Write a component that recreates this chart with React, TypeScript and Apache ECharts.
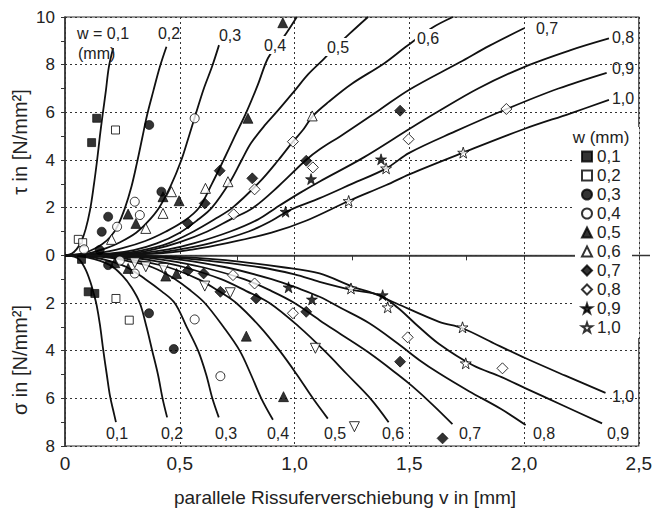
import React, { useEffect, useRef } from "react";
import * as echarts from "echarts";

// ---------- data ----------
const W_NAMES = ["0,1", "0,2", "0,3", "0,4", "0,5", "0,6", "0,7", "0,8", "0,9", "1,0"];

// fitted curves, shear stress τ (upper half)
const tau01 = [[0,0],[0.03,0.08],[0.05,0.25],[0.07,0.55],[0.09,1.1],[0.109,1.9],[0.125,2.9],[0.14,4.0],[0.152,5.0],[0.164,5.9],[0.178,6.9],[0.191,7.9],[0.21,8.7]];
const tau02 = [[0,0],[0.05,0.04],[0.1,0.15],[0.16,0.45],[0.2,0.8],[0.23,1.25],[0.26,1.95],[0.29,2.9],[0.314,3.9],[0.336,4.9],[0.358,5.9],[0.385,6.9],[0.413,7.9],[0.442,8.75]];
const tau03 = [[0,0],[0.1,0.08],[0.18,0.3],[0.24,0.55],[0.31,0.95],[0.36,1.4],[0.41,2.0],[0.46,2.9],[0.507,4.0],[0.54,5.0],[0.572,6.0],[0.605,7.0],[0.64,7.9],[0.671,8.82]];
const tau04 = [[0,0],[0.15,0.1],[0.25,0.3],[0.35,0.6],[0.44,1.0],[0.52,1.45],[0.584,2.0],[0.64,3.0],[0.691,4.0],[0.74,5.0],[0.79,6.0],[0.84,7.15],[0.884,8.27],[0.925,8.8],[0.965,9.33],[1.01,10]];
const tau05 = [[0,0],[0.2,0.08],[0.3,0.22],[0.4,0.5],[0.5,0.95],[0.58,1.5],[0.64,2.0],[0.72,3.1],[0.77,4.0],[0.81,4.7],[0.87,5.45],[0.93,6.1],[1.0,6.9],[1.06,7.6],[1.126,8.22],[1.18,8.75],[1.24,9.3],[1.32,10]];
const tau06 = [[0,0],[0.22,0.07],[0.33,0.2],[0.45,0.5],[0.56,1.0],[0.65,1.5],[0.73,2.0],[0.85,3.1],[0.93,4.0],[0.993,4.77],[1.04,5.3],[1.08,5.85],[1.15,6.45],[1.25,7.2],[1.39,8.05],[1.485,8.75],[1.6,9.55],[1.69,10]];
const tau07 = [[0,0],[0.28,0.08],[0.4,0.28],[0.5,0.55],[0.62,1.0],[0.72,1.5],[0.82,2.0],[0.93,2.9],[1.05,4.0],[1.11,4.45],[1.2,5.0],[1.37,6.1],[1.5,6.95],[1.72,8.1],[1.85,8.8],[2.0,9.53]];
const tau08 = [[0,0],[0.3,0.07],[0.45,0.25],[0.56,0.5],[0.72,1.0],[0.84,1.5],[0.92,2.0],[1.02,2.6],[1.11,3.1],[1.3,4.1],[1.5,5.3],[1.62,6.0],[1.8,7.0],[2.0,7.9],[2.2,8.6],[2.37,9.1]];
const tau09 = [[0,0],[0.35,0.07],[0.5,0.25],[0.63,0.5],[0.8,1.0],[0.9,1.45],[0.98,1.9],[1.11,2.4],[1.25,3.0],[1.4,3.65],[1.5,4.3],[1.7,5.2],[1.927,6.15],[2.15,7.0],[2.36,7.66]];
const tau10 = [[0,0],[0.4,0.07],[0.56,0.25],[0.7,0.5],[0.9,0.95],[1.05,1.45],[1.236,2.28],[1.4,2.95],[1.5,3.4],[1.732,4.3],[2.0,5.3],[2.2,5.95],[2.37,6.52]];

// fitted curves, normal stress σ (lower half, plotted negative)
const sig01 = [[0,0],[0.04,-0.05],[0.065,-0.2],[0.09,-0.6],[0.11,-1.1],[0.125,-1.6],[0.138,-2.1],[0.152,-2.9],[0.167,-4.0],[0.182,-5.0],[0.196,-5.9],[0.21,-6.5],[0.222,-7.0]];
const sig02 = [[0,0],[0.1,-0.1],[0.196,-0.41],[0.25,-0.85],[0.29,-1.35],[0.326,-2.0],[0.355,-3.0],[0.38,-4.0],[0.405,-5.0],[0.425,-6.0],[0.445,-6.8]];
const sig03 = [[0,0],[0.12,-0.08],[0.2,-0.25],[0.27,-0.5],[0.35,-1.0],[0.42,-1.5],[0.478,-2.0],[0.53,-3.0],[0.58,-4.0],[0.615,-5.0],[0.642,-6.0],[0.67,-6.8]];
const sig04 = [[0,0],[0.18,-0.08],[0.28,-0.25],[0.38,-0.5],[0.48,-1.0],[0.55,-1.5],[0.609,-2.0],[0.69,-3.0],[0.761,-4.0],[0.81,-5.0],[0.855,-6.0],[0.906,-6.9]];
const sig05 = [[0,0],[0.2,-0.06],[0.33,-0.25],[0.45,-0.5],[0.58,-1.0],[0.67,-1.5],[0.746,-2.0],[0.85,-3.0],[0.935,-4.0],[1.01,-5.0],[1.08,-6.0],[1.145,-6.85]];
const sig06 = [[0,0],[0.25,-0.06],[0.4,-0.25],[0.52,-0.5],[0.68,-1.0],[0.79,-1.5],[0.891,-2.0],[1.02,-3.0],[1.13,-4.0],[1.23,-5.0],[1.33,-6.0],[1.41,-7.0]];
const sig07 = [[0,0],[0.3,-0.05],[0.45,-0.22],[0.6,-0.5],[0.78,-1.0],[0.9,-1.5],[1.0,-2.0],[1.109,-2.72],[1.2,-3.3],[1.326,-4.1],[1.45,-5.0],[1.514,-5.5],[1.6,-6.25],[1.688,-7.08]];
const sig08 = [[0,0],[0.35,-0.05],[0.5,-0.18],[0.7,-0.5],[0.9,-1.0],[1.02,-1.4],[1.109,-1.74],[1.2,-2.2],[1.326,-2.85],[1.45,-3.7],[1.543,-4.39],[1.63,-4.95],[1.76,-5.7],[1.9,-6.45],[2.007,-7.12]];
const sig09 = [[0,0],[0.4,-0.05],[0.6,-0.2],[0.85,-0.5],[1.0,-0.8],[1.109,-1.11],[1.25,-1.45],[1.37,-1.67],[1.45,-2.2],[1.53,-2.9],[1.63,-3.72],[1.775,-4.6],[1.9,-5.1],[2.007,-5.58],[2.17,-6.3],[2.34,-7.05]];
const sig10 = [[0,0],[0.45,-0.05],[0.7,-0.2],[0.95,-0.5],[1.109,-0.76],[1.254,-1.32],[1.35,-1.62],[1.442,-2.01],[1.63,-2.79],[1.732,-3.06],[1.87,-3.7],[2.007,-4.32],[2.18,-5.05],[2.355,-5.77]];

// measured points, τ (upper) per crack width w
const mTau01 = [[0.116,4.73],[0.138,5.75]];
const mTau02 = [[0.22,5.26],[0.058,0.67],[0.077,0.53]];
const mTau03 = [[0.367,5.47],[0.42,2.67],[0.188,1.62],[0.16,0.99],[0.151,0.22]];
const mTau04 = [[0.565,5.75],[0.304,2.25],[0.326,1.69],[0.227,1.2],[0.083,0.25]];
const mTau05 = [[0.949,9.76],[0.797,5.75],[0.275,1.73],[0.309,1.34],[0.427,2.46],[0.497,2.29]];
const mTau06 = [[0.203,0.67],[0.352,1.13],[0.427,1.76],[0.464,2.67],[0.612,2.81],[0.71,3.09],[1.077,5.85]];
const mTau07 = [[0.536,1.34],[0.609,2.18],[0.674,3.55],[0.816,3.23],[1.051,3.97],[1.46,6.07]];
const mTau08 = [[0.735,1.72],[0.826,2.77],[0.993,4.77],[1.08,3.69],[1.497,4.87],[1.923,6.14]];
const mTau09 = [[0.961,1.83],[1.072,3.2],[1.377,4.03]];
const mTau10 = [[1.236,2.28],[1.399,3.65],[1.735,4.31]];

// measured points, σ (lower, negative)
const mSig01 = [[0.072,-0.17],[0.101,-1.53],[0.13,-1.6]];
const mSig02 = [[0.222,-1.81],[0.28,-2.72]];
const mSig03 = [[0.188,-0.41],[0.366,-2.43],[0.474,-3.93]];
const mSig04 = [[0.239,-0.22],[0.304,-0.76],[0.565,-2.69],[0.677,-5.07]];
const mSig05 = [[0.217,-0.31],[0.275,-0.55],[0.439,-0.87],[0.486,-0.76],[0.79,-3.39],[0.952,-5.93]];
const mSig06 = [[0.304,-0.31],[0.352,-0.48],[0.43,-0.55],[0.609,-1.29],[0.72,-1.57],[1.091,-3.9],[1.261,-7.19]];
const mSig07 = [[0.536,-0.64],[0.604,-0.76],[0.677,-1.53],[0.833,-1.81],[1.051,-2.37],[1.46,-4.46],[1.645,-7.68]];
const mSig08 = [[0.732,-0.83],[0.826,-1.18],[0.993,-2.43],[1.493,-3.44],[1.906,-4.74]];
const mSig09 = [[0.974,-1.34],[1.076,-1.85],[1.384,-1.67]];
const mSig10 = [[1.246,-1.39],[1.406,-2.18],[1.732,-3.02],[1.746,-4.53]];

const ZERO_LINE = [[0, 0], [2.5, 0]];

const TAU_CURVES = [tau01, tau02, tau03, tau04, tau05, tau06, tau07, tau08, tau09, tau10];
const SIG_CURVES = [sig01, sig02, sig03, sig04, sig05, sig06, sig07, sig08, sig09, sig10];
const TAU_POINTS = [mTau01, mTau02, mTau03, mTau04, mTau05, mTau06, mTau07, mTau08, mTau09, mTau10];
const SIG_POINTS = [mSig01, mSig02, mSig03, mSig04, mSig05, mSig06, mSig07, mSig08, mSig09, mSig10];

// ---------- layout / style ----------
const FONT = "'Liberation Sans', Arial, Helvetica, sans-serif";
const INK = "#222";
const STAR = "path://M50,2 L61,36 L97,36 L68,57 L79,92 L50,71 L21,92 L32,57 L3,36 L39,36 Z";

const MARKERS = [
  { symbol: "rect", fill: true, size: 8 },
  { symbol: "rect", fill: false, size: 8 },
  { symbol: "circle", fill: true, size: 9 },
  { symbol: "circle", fill: false, size: 9 },
  { symbol: "triangle", fill: true, size: 10 },
  { symbol: "triangle", fill: false, size: 10, rotate: 180 },
  { symbol: "diamond", fill: true, size: 11 },
  { symbol: "diamond", fill: false, size: 11 },
  { symbol: STAR, fill: true, size: 11 },
  { symbol: STAR, fill: false, size: 11 },
];

const TOP_LABELS = [
  { t: "0,2", x: 169, y: 33 },
  { t: "0,3", x: 230, y: 35 },
  { t: "0,4", x: 275, y: 45, bg: true },
  { t: "0,5", x: 338, y: 47, bg: true },
  { t: "0,6", x: 428, y: 38, bg: true },
  { t: "0,7", x: 547, y: 28 },
  { t: "0,8", x: 623, y: 37 },
  { t: "0,9", x: 623, y: 68 },
  { t: "1,0", x: 623, y: 98 },
];
const BOTTOM_LABELS = [
  { t: "0,1", x: 117, y: 433 },
  { t: "0,2", x: 172, y: 433 },
  { t: "0,3", x: 226, y: 433 },
  { t: "0,4", x: 278, y: 433 },
  { t: "0,5", x: 335, y: 433 },
  { t: "0,6", x: 393, y: 433 },
  { t: "0,7", x: 470, y: 433 },
  { t: "0,8", x: 544, y: 433 },
  { t: "0,9", x: 618, y: 433 },
  { t: "1,0", x: 623, y: 396 },
];

function labelEl(l: any) {
  return {
    type: "text",
    x: l.x,
    y: l.y,
    z: 10,
    style: {
      text: l.t,
      fontSize: 16,
      fontFamily: FONT,
      fill: INK,
      align: "center",
      verticalAlign: "middle",
      textAlign: "center",
      textVerticalAlign: "middle",
      backgroundColor: l.bg ? "#fff" : undefined,
      padding: l.bg ? [1, 2] : 0,
    },
  };
}

export default function App() {
  const ref = useRef<HTMLDivElement>(null);

  useEffect(() => {
    if (!ref.current) return;
    const chart = echarts.init(ref.current, null, { renderer: "svg" });

    const curveSeries = [...TAU_CURVES, ...SIG_CURVES].map((d, i) => ({
      name: "curve" + i,
      type: "line",
      data: d,
      smooth: 0.35,
      showSymbol: false,
      silent: true,
      z: 2,
      lineStyle: { color: "#111", width: 1.8 },
    }));

    const scatterSeries = W_NAMES.map((name, i) => {
      const m = MARKERS[i];
      const up = TAU_POINTS[i].map((p) => (m.rotate ? { value: p, symbolRotate: 0 } : { value: p }));
      const down = SIG_POINTS[i].map((p) => ({ value: p }));
      return {
        name,
        type: "scatter",
        data: [...up, ...down],
        symbol: m.symbol,
        symbolSize: m.size,
        symbolRotate: m.rotate || 0,
        z: 3,
        itemStyle: m.fill
          ? { color: "#000", borderColor: "#000", borderWidth: 0.8 }
          : { color: "#fff", borderColor: "#000", borderWidth: 1 },
      };
    });

    const option = {
      animation: false,
      backgroundColor: "#fff",
      textStyle: { fontFamily: FONT },
      grid: { left: 65, right: 14, top: 17, bottom: 68, show: true, borderColor: "#333", borderWidth: 1.2, backgroundColor: "transparent" },
      xAxis: {
        type: "value",
        min: 0,
        max: 2.5,
        interval: 0.5,
        axisLine: { show: true, lineStyle: { color: "#333", width: 1.5 } },
        axisTick: { show: true, length: 5, lineStyle: { color: "#333" } },
        minorTick: { show: true, splitNumber: 2, length: 5, lineStyle: { color: "#333" } },
        splitLine: { show: true, lineStyle: { color: "#333", type: [2, 3], width: 1 } },
        axisLabel: {
          fontSize: 19,
          color: INK,
          margin: 8,
          fontFamily: FONT,
          formatter: (v: number) => (v === 0 ? "0" : v.toFixed(1).replace(".", ",")),
        },
      },
      yAxis: {
        type: "value",
        min: -8,
        max: 10,
        interval: 2,
        axisLine: { show: true, lineStyle: { color: "#333", width: 1.5 } },
        axisTick: { show: true, length: 4, lineStyle: { color: "#333" } },
        minorTick: { show: true, splitNumber: 2, length: 4, lineStyle: { color: "#333" } },
        splitLine: { show: true, lineStyle: { color: "#333", type: [2, 3], width: 1 } },
        axisLabel: {
          fontSize: 17,
          color: INK,
          margin: 10,
          fontFamily: FONT,
          formatter: (v: number) => String(Math.abs(v)),
        },
      },
      legend: {
        data: W_NAMES,
        orient: "vertical",
        left: 581,
        top: 148,
        padding: 0,
        itemWidth: 10,
        itemHeight: 10,
        itemGap: 2,
        z: 6,
        textStyle: { fontSize: 17, color: INK, fontFamily: FONT },
      },
      graphic: [
        { type: "rect", z: 5, shape: { x: 575, y: 127, width: 64, height: 211 }, style: { fill: "#fff" } },
        { type: "text", x: 601, y: 137, z: 10, style: { text: "w (mm)", fontSize: 17, fontFamily: FONT, fill: INK, align: "center", verticalAlign: "middle", textAlign: "center", textVerticalAlign: "middle" } },
        { type: "line", z: 10, shape: { x1: 632, y1: 255.5, x2: 650, y2: 255.5 }, style: { stroke: "#333", lineWidth: 1.5 } },
        { type: "text", x: 77, y: 33, z: 10, style: { text: "w = 0,1", fontSize: 16, fontFamily: FONT, fill: INK, align: "left", verticalAlign: "middle", textAlign: "left", textVerticalAlign: "middle" } },
        { type: "text", x: 78, y: 53, z: 10, style: { text: "(mm)", fontSize: 16, fontFamily: FONT, fill: INK, align: "left", verticalAlign: "middle", textAlign: "left", textVerticalAlign: "middle" } },
        ...TOP_LABELS.map(labelEl),
        ...BOTTOM_LABELS.map(labelEl),
        { type: "text", x: 20, y: 142, rotation: Math.PI / 2, z: 10, style: { text: "τ in [N/mm²]", fontSize: 20, fontFamily: FONT, fill: INK, align: "center", verticalAlign: "middle", textAlign: "center", textVerticalAlign: "middle" } },
        { type: "text", x: 20, y: 360, rotation: Math.PI / 2, z: 10, style: { text: "σ in [N/mm²]", fontSize: 20, fontFamily: FONT, fill: INK, align: "center", verticalAlign: "middle", textAlign: "center", textVerticalAlign: "middle" } },
        { type: "text", x: 345, y: 497, z: 10, style: { text: "parallele Rissuferverschiebung v in [mm]", fontSize: 19, fontFamily: FONT, fill: INK, align: "center", verticalAlign: "middle", textAlign: "center", textVerticalAlign: "middle" } },
      ],
      series: [
        { name: "zero", type: "line", data: ZERO_LINE, showSymbol: false, silent: true, z: 1, lineStyle: { color: "#333", width: 1 } },
        ...curveSeries,
        ...scatterSeries,
      ],
    };

    chart.setOption(option as any);
    return () => chart.dispose();
  }, []);

  return (
    <div
      ref={ref}
      style={{ position: "absolute", left: 0, top: 0, width: 655, height: 514, background: "#fff" }}
    />
  );
}
